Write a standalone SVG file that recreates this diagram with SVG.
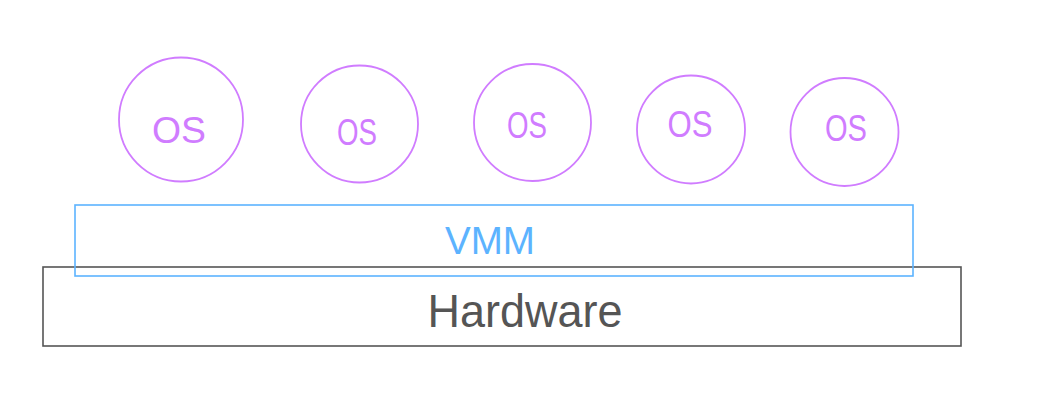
<svg xmlns="http://www.w3.org/2000/svg" width="1037" height="401" viewBox="0 0 1037 401">
<style>
.os circle{fill:none;stroke:#d07cff;stroke-width:1.8}
.os text{fill:#d07cff;font-family:"Liberation Sans",Arial,sans-serif;font-size:36px;text-anchor:middle}
.box rect{fill:none;stroke-width:1.6}
.box text{font-family:"Liberation Sans",Arial,sans-serif;text-anchor:middle}
</style>
<rect width="1037" height="401" fill="#ffffff"/>
<g id="hardware" class="box">
<rect x="43" y="267" width="918" height="79" stroke="#555555"/>
<text x="525" y="327" font-size="46" fill="#555555" textLength="195" lengthAdjust="spacingAndGlyphs">Hardware</text>
</g>
<g id="vmm" class="box">
<rect x="75" y="205" width="838" height="71" stroke="#5cb3ff"/>
<text x="490" y="254" font-size="38" fill="#5cb3ff" textLength="90" lengthAdjust="spacingAndGlyphs">VMM</text>
</g>
<g id="os1" class="os"><circle cx="181" cy="119.5" r="62"/><text x="179" y="143" textLength="54" lengthAdjust="spacingAndGlyphs">OS</text></g>
<g id="os2" class="os"><circle cx="359.5" cy="124" r="58.5"/><text x="357" y="145" textLength="40" lengthAdjust="spacingAndGlyphs">OS</text></g>
<g id="os3" class="os"><circle cx="532.5" cy="122.5" r="58.5"/><text x="527" y="138" textLength="40" lengthAdjust="spacingAndGlyphs">OS</text></g>
<g id="os4" class="os"><circle cx="691" cy="129.5" r="54"/><text x="690" y="137" textLength="45" lengthAdjust="spacingAndGlyphs">OS</text></g>
<g id="os5" class="os"><circle cx="844.5" cy="132" r="54"/><text x="846" y="141" textLength="42" lengthAdjust="spacingAndGlyphs">OS</text></g>
<g id="connectors"></g>
</svg>
